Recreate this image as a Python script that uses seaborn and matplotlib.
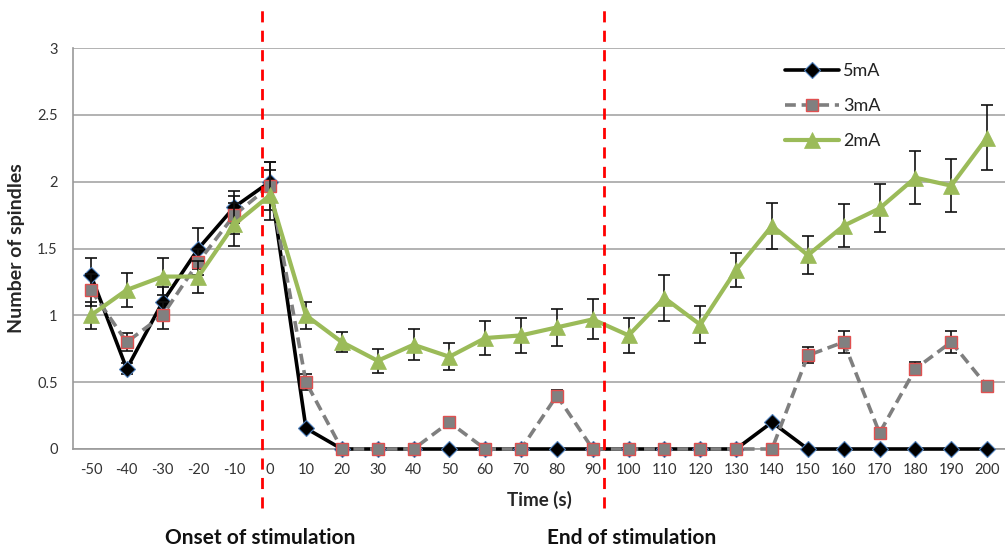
import numpy as np
import pandas as pd
import matplotlib
matplotlib.use("Agg")
import matplotlib.pyplot as plt
import seaborn as sns

# Time bins (s) relative to stimulation onset
times = [-50, -40, -30, -20, -10, 0, 10, 20, 30, 40, 50, 60, 70, 80, 90,
         100, 110, 120, 130, 140, 150, 160, 170, 180, 190, 200]

# Mean number of spindles per intensity
spindles_5ma = [1.30, 0.60, 1.10, 1.50, 1.81, 2.00, 0.155, 0, 0, 0, 0, 0, 0, 0, 0,
                0, 0, 0, 0, 0.20, 0, 0, 0, 0, 0, 0]
spindles_3ma = [1.19, 0.80, 1.00, 1.40, 1.75, 1.97, 0.50, 0, 0, 0, 0.20, 0, 0, 0.40, 0,
                0, 0, 0, 0, 0, 0.70, 0.80, 0.12, 0.60, 0.80, 0.47]
spindles_2ma = [1.00, 1.19, 1.29, 1.29, 1.68, 1.90, 1.00, 0.80, 0.66, 0.78, 0.69, 0.83,
                0.85, 0.91, 0.97, 0.85, 1.13, 0.93, 1.34, 1.67, 1.45, 1.67, 1.80, 2.03,
                1.97, 2.33]

# Standard errors
sem_5ma = [0.13, 0.04, 0.11, 0.15, 0.12, 0.15, 0, 0, 0, 0, 0, 0, 0, 0, 0,
           0, 0, 0, 0, 0, 0, 0, 0, 0, 0, 0]
sem_3ma = [0.12, 0.07, 0.10, 0.10, 0.14, 0.18, 0.06, 0, 0, 0, 0, 0, 0, 0.04, 0,
           0, 0, 0, 0, 0, 0.06, 0.08, 0, 0.05, 0.08, 0.03]
sem_2ma = [0.10, 0.13, 0.14, 0.12, 0.16, 0.19, 0.10, 0.075, 0.09, 0.115, 0.10, 0.13,
           0.13, 0.14, 0.15, 0.13, 0.17, 0.14, 0.13, 0.17, 0.14, 0.16, 0.18, 0.20,
           0.20, 0.24]

series_names = ["5mA", "3mA", "2mA"]

sns.set_style("white")
plt.rcParams["font.family"] = ["Lato", "DejaVu Sans"]

pos = np.arange(len(times))
df = pd.DataFrame({
    "pos": np.tile(pos, 3),
    "value": spindles_5ma + spindles_3ma + spindles_2ma,
    "sem": sem_5ma + sem_3ma + sem_2ma,
    "series": np.repeat(series_names, len(times)),
})

fig = plt.figure(figsize=(10.05, 5.52), dpi=100)
ax = fig.add_axes([0.0726, 0.1866, 0.9274, 0.7264])

styles = {
    "5mA": dict(color="black", lw=2.6, dashes=None, marker="D", ms=8.5,
                mfc="black", mec="#4f81bd", mew=0.8),
    "3mA": dict(color="#7f7f7f", lw=2.6, dashes=(3, 1.6), marker="s", ms=8,
                mfc="#808080", mec="#e05050", mew=1.0),
    "2mA": dict(color="#9bbb59", lw=3.0, dashes=None, marker="^", ms=11,
                mfc="#9bbb59", mec="#9bbb59", mew=0.5),
}

for z, name in enumerate(series_names):
    sub = df[df["series"] == name]
    st = styles[name]
    err = sub[sub["sem"] > 0]
    ax.errorbar(err["pos"], err["value"], yerr=err["sem"], fmt="none",
                ecolor="#111111", elinewidth=1.2, capsize=4, capthick=1.2,
                zorder=2 + 2 * z)
    sns.lineplot(data=sub, x="pos", y="value", ax=ax, color=st["color"],
                 linewidth=st["lw"], marker=st["marker"],
                 markersize=st["ms"], markerfacecolor=st["mfc"],
                 markeredgecolor=st["mec"], markeredgewidth=st["mew"],
                 label=name, zorder=3 + 2 * z, errorbar=None)
    line = ax.lines[-1]
    line.set_clip_on(False)
    if st["dashes"]:
        line.set_dashes(st["dashes"])

# Axes styling
ax.set_xlim(-0.5, len(times) - 0.5)
ax.set_ylim(0, 3)
ax.set_yticks(np.arange(0, 3.01, 0.5))
ax.set_yticklabels(["0", "0.5", "1", "1.5", "2", "2.5", "3"])
ax.set_xticks(pos)
ax.set_xticklabels([str(t) for t in times])
ax.set_xticks(np.arange(-0.5, len(times), 1.0), minor=True)
ax.tick_params(axis="x", which="major", length=0, pad=10, labelsize=10.5,
               labelcolor="#333333")
ax.tick_params(axis="x", which="minor", length=5, color="#999999", width=1,
               direction="out")
ax.tick_params(axis="y", length=5, color="#999999", width=1, labelsize=10.5,
               labelcolor="#333333", pad=6)
ax.yaxis.grid(True, color="#a6a6a6", lw=1.2)
ax.set_axisbelow(True)
for side in ["top", "right"]:
    ax.spines[side].set_visible(False)
for side in ["left", "bottom"]:
    ax.spines[side].set_color("#999999")
    ax.spines[side].set_linewidth(1.2)

ax.set_xlabel("Time (s)", fontsize=13.5, fontweight="bold", labelpad=10)
ax.set_ylabel("Number of spindles", fontsize=14, fontweight="bold", labelpad=9)

# Stimulation onset / end markers
for xv in (4.77, 14.31):
    ax.axvline(xv, ymin=-0.147, ymax=1.095, color="#ff0000", lw=2,
               ls=(0, (4, 3)), clip_on=False, zorder=10)

fig.text(0.2587, 0.026, "Onset of stimulation", fontsize=15, fontweight="bold",
         ha="center", va="center", color="#111111")
fig.text(0.6283, 0.026, "End of stimulation", fontsize=15, fontweight="bold",
         ha="center", va="center", color="#111111")

leg = ax.legend(loc="upper left", bbox_to_anchor=(0.765, 0.915),
                bbox_transform=fig.transFigure, frameon=False, fontsize=13,
                handlelength=3.0, labelspacing=1.05, handletextpad=0.2)
for t in leg.get_texts():
    t.set_color("#222222")

fig.savefig("out.png", dpi=100)
